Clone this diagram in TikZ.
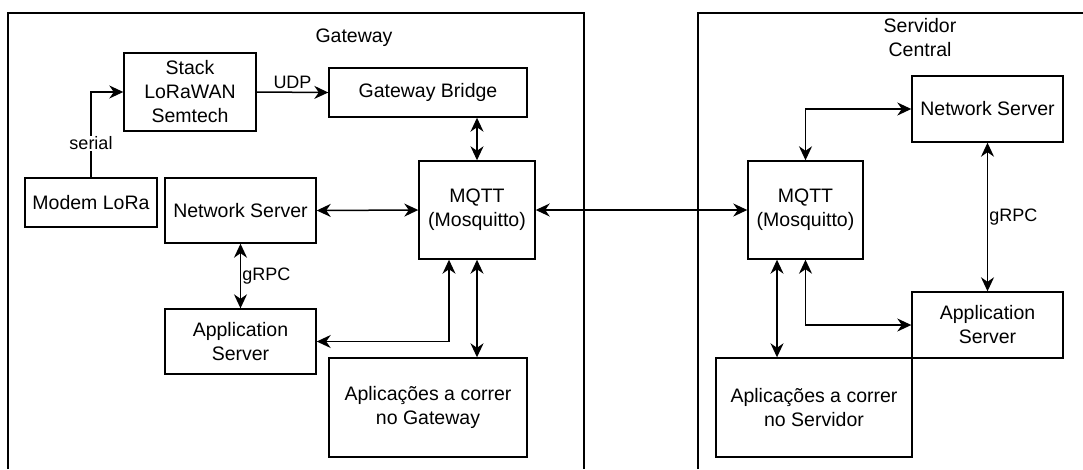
\documentclass[tikz,border=0pt]{standalone}
\usepackage{fontspec}
\setmainfont{Liberation Sans}
\usetikzlibrary{arrows.meta}
\begin{document}
\begin{tikzpicture}[x=1pt,y=-1pt,
  box/.style={draw, line width=1.4pt, align=center, inner sep=0pt, font=\fontsize{19.5}{24}\selectfont},
  title/.style={align=center, inner sep=0pt, font=\fontsize{19.5}{24}\selectfont},
  lbl/.style={inner sep=1pt, font=\fontsize{18}{22}\selectfont},
  conn/.style={line width=1.5pt},
  tip/.style={},
  arr/.style={conn, -{Stealth[length=14pt,width=13pt,inset=4.5pt]}},
  darr/.style={conn, {Stealth[length=14pt,width=13pt,inset=4.5pt]}-{Stealth[length=14pt,width=13pt,inset=4.5pt]}},
  frame/.style={line width=1.4pt}
]
\useasboundingbox (0,0) rectangle (1083,469);
% containers
\draw[frame] (8,469) -- (8,13) -- (584,13) -- (584,469);
\draw[frame] (698,469) -- (698,13) -- (1083,13);
\node[title] (tgw) at (354,38) {Gateway};
\node[title] (tsrv) at (920,38) {Servidor\\Central};

% gateway nodes
\node[box, minimum width=132, minimum height=78] (stack) at (190,92) {Stack\\LoRaWAN\\Semtech};
\node[box, minimum width=198, minimum height=49] (bridge) at (428,92.5) {Gateway Bridge};
\node[box, minimum width=132, minimum height=49] (modem) at (91,202.5) {Modem LoRa};
\node[box, minimum width=151, minimum height=65] (nsg) at (240.5,210.5) {Network Server};
\node[box, minimum width=116, minimum height=98] (mqttg) at (477,210) {MQTT\\(Mosquitto)};
\node[box, minimum width=151, minimum height=65] (asg) at (240.5,341.5) {Application\\Server};
\node[box, minimum width=198, minimum height=99] (appg) at (428,407.5) {Aplicações a correr\\no Gateway};

% server nodes
\node[box, minimum width=115, minimum height=98] (mqtts) at (805.5,210) {MQTT\\(Mosquitto)};
\node[box, minimum width=151, minimum height=66] (nss) at (987.5,109) {Network Server};
\node[box, minimum width=151, minimum height=66] (ass) at (987.5,325) {Application\\Server};
\node[box, minimum width=196, minimum height=99] (apps) at (814,407.5) {Aplicações a correr\\no Servidor};

% gateway connectors
\draw[arr] (modem.north) |- node[lbl, pos=0.2, fill=white] {serial} (stack.west);
\draw[arr] (stack.east) -- node[lbl, midway, above=2pt] {UDP} (bridge.west);
\draw[darr] (mqttg.north |- bridge.south) -- (mqttg.north);
\draw[darr] (nsg.east) -- (mqttg.west);
\draw[darr] (mqttg.east) -- (mqtts.west);
\draw[darr] (nsg.south) -- node[lbl, midway, right=0pt] {gRPC} (asg.north);
\draw[darr] (asg.east) -| ([xshift=-28pt]mqttg.south);
\draw[darr] (mqttg.south) -- (mqttg.south |- appg.north);

% server connectors
\draw[darr] (mqtts.north) |- (nss.west);
\draw[darr] (nss.south) -- node[lbl, midway, right=0pt] {gRPC} (ass.north);
\draw[darr] ([xshift=-28.5pt]mqtts.south) -- ([xshift=-28.5pt]mqtts.south |- apps.north);
\draw[darr] (mqtts.south) |- (ass.west);
\end{tikzpicture}
\end{document}
